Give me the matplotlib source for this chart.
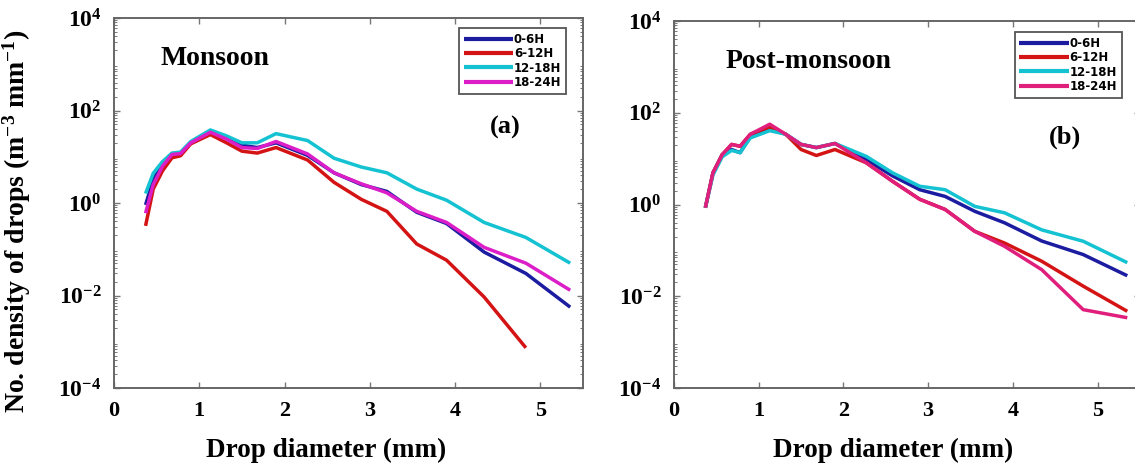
import numpy as np
import matplotlib
matplotlib.use("Agg")
import matplotlib.pyplot as plt
from matplotlib.ticker import LogLocator, NullFormatter

plt.rcParams['mathtext.fontset'] = 'custom'
plt.rcParams['mathtext.rm'] = 'Liberation Serif:bold'
plt.rcParams['mathtext.it'] = 'Liberation Serif:bold:italic'
plt.rcParams['mathtext.bf'] = 'Liberation Serif:bold'
plt.rcParams['font.family'] = 'Liberation Serif'
plt.rcParams['font.weight'] = 'bold'

# ---------------- data ----------------
diameter = [0.37, 0.46, 0.57, 0.68, 0.78, 0.90, 1.13, 1.32, 1.50, 1.68,
            1.90, 2.27, 2.58, 2.90, 3.20, 3.55, 3.90, 4.34, 4.83, 5.35]

series_labels = ["0-6H", "6-12H", "12-18H", "18-24H"]

# Monsoon (panel a), number density (m^-3 mm^-1)
mon_0_6 = [0.91, 3.2, 7.1, 11.7, 11.7, 20.0, 35.5, 26.3, 17.8, 15.8,
           20.0, 10.7, 4.5, 2.5, 1.78, 0.63, 0.36, 0.087, 0.030, 0.0056]
mon_6_12 = [0.32, 2.0, 5.0, 9.5, 10.5, 19.0, 30.2, 20.0, 13.2, 12.0,
            15.8, 8.5, 2.8, 1.2, 0.66, 0.13, 0.058, 0.0093, 0.00074, np.nan]
mon_12_18 = [1.6, 4.4, 7.9, 12.0, 12.6, 21.4, 38.0, 28.2, 20.0, 20.0,
             31.6, 22.4, 9.3, 6.0, 4.5, 2.0, 1.15, 0.38, 0.18, 0.050]
mon_18_24 = [0.60, 2.5, 6.3, 11.2, 11.7, 20.0, 33.9, 24.0, 15.8, 15.1,
             21.4, 11.5, 4.5, 2.6, 1.66, 0.66, 0.38, 0.11, 0.050, 0.013]

# Post-monsoon (panel b)
post_0_6 = [0.85, 4.9, 12.3, 15.8, 13.5, 30.0, 46.8, 33.9, 20.4, 17.4,
            21.4, 9.5, 4.2, 2.1, 1.5, 0.71, 0.40, 0.16, 0.081, 0.028]
post_6_12 = [0.85, 4.9, 12.3, 20.4, 18.6, 33.9, 49.0, 33.9, 15.8, 11.7,
             15.8, 8.1, 3.2, 1.3, 0.78, 0.26, 0.145, 0.058, 0.0166, 0.0047]
post_12_18 = [0.85, 4.4, 11.0, 15.1, 13.5, 28.2, 40.7, 33.9, 20.4, 17.4,
              21.4, 11.2, 4.9, 2.5, 2.1, 0.91, 0.66, 0.28, 0.158, 0.054]
post_18_24 = [0.85, 4.9, 12.3, 20.4, 18.6, 33.9, 56.2, 33.9, 20.4, 17.4,
              21.4, 8.1, 3.2, 1.3, 0.78, 0.26, 0.123, 0.038, 0.0051, 0.0034]

panel_titles = ["Monsoon", "Post-monsoon"]
panel_tags = ["(a)", "(b)"]

x_ticks = [0, 1, 2, 3, 4, 5]
y_ticks = [1e-4, 1e-2, 1e0, 1e2, 1e4]
y_ticklabels = [r"$10^{-4}$", r"$10^{-2}$", r"$10^{0}$", r"$10^{2}$", r"$10^{4}$"]

colors_a = ["#1c1ca0", "#d41414", "#14c2d2", "#dc1ec8"]
colors_b = ["#1c1ca0", "#d41414", "#14c2d2", "#e01e7c"]

# ---------------- figure ----------------
W, H = 1135, 475
fig = plt.figure(figsize=(W / 100, H / 100), dpi=100)

def box(l, r, t, b):
    return [l / W, (H - b) / H, (r - l) / W, (b - t) / H]

ax1 = fig.add_axes(box(114, 583, 18, 388))
ax2 = fig.add_axes(box(674, 1140, 21, 388))

panels = [
    (ax1, [mon_0_6, mon_6_12, mon_12_18, mon_18_24], colors_a),
    (ax2, [post_0_6, post_6_12, post_12_18, post_18_24], colors_b),
]

title_pos = [(0.10, 0.89), (0.11, 0.89)]
tag_pos = [(0.834, 0.703), (0.839, 0.684)]
leg_anchor = [(0.964, 0.973), (0.961, 0.970)]
xlabel_x = [0.452, 0.47]

for i, (ax, data, cols) in enumerate(panels):
    for vals, c, lab in zip(data, cols, series_labels):
        ax.plot(diameter, vals, color=c, lw=2.5, label=lab, solid_capstyle='butt')
    ax.set_yscale('log')
    ax.set_xlim(0, 5.5)
    ax.set_ylim(1e-4, 1e4)
    ax.set_xticks(x_ticks)
    ax.set_xticklabels([str(t) for t in x_ticks], fontsize=16, fontweight='bold')
    ax.set_yticks(y_ticks)
    ax.set_yticklabels(y_ticklabels, fontsize=17)
    ax.yaxis.set_minor_locator(LogLocator(base=10, subs=np.arange(2, 10), numticks=20))
    ax.yaxis.set_minor_formatter(NullFormatter())
    ax.tick_params(which='both', direction='in', top=True, right=True, color='#777777')
    ax.tick_params(which='major', length=4, width=1.0, pad=9)
    ax.tick_params(which='minor', length=2, width=0.7)
    for sp in ax.spines.values():
        sp.set_color('#666666')
        sp.set_linewidth(1.4)
    ax.set_xlabel("Drop diameter (mm)", fontsize=19.5, fontweight='bold')
    ax.xaxis.set_label_coords(xlabel_x[i], -0.135)
    ax.text(title_pos[i][0], title_pos[i][1], panel_titles[i], transform=ax.transAxes,
            fontsize=20, fontweight='bold', va='center', ha='left')
    ax.text(tag_pos[i][0], tag_pos[i][1], panel_tags[i], transform=ax.transAxes,
            fontsize=19, fontweight='bold', ha='center', va='center')
    leg = ax.legend(loc='upper right', bbox_to_anchor=leg_anchor[i],
                    prop={'family': 'DejaVu Sans', 'weight': 'bold', 'size': 8.5},
                    handlelength=4.2, handletextpad=0.05, labelspacing=0.12,
                    borderpad=0.4, borderaxespad=0.0, fancybox=False, framealpha=1)
    leg.get_frame().set_edgecolor('#555555')
    leg.get_frame().set_linewidth(1.3)
    for line in leg.get_lines():
        line.set_linewidth(3.0)

ax1.set_ylabel(r"No. density of drops (m$^{-3}$ mm$^{-1}$)", fontsize=20,
               fontweight='bold')
ax1.yaxis.set_label_coords(-0.172, 0.45)

fig.savefig("out.png", dpi=100)
